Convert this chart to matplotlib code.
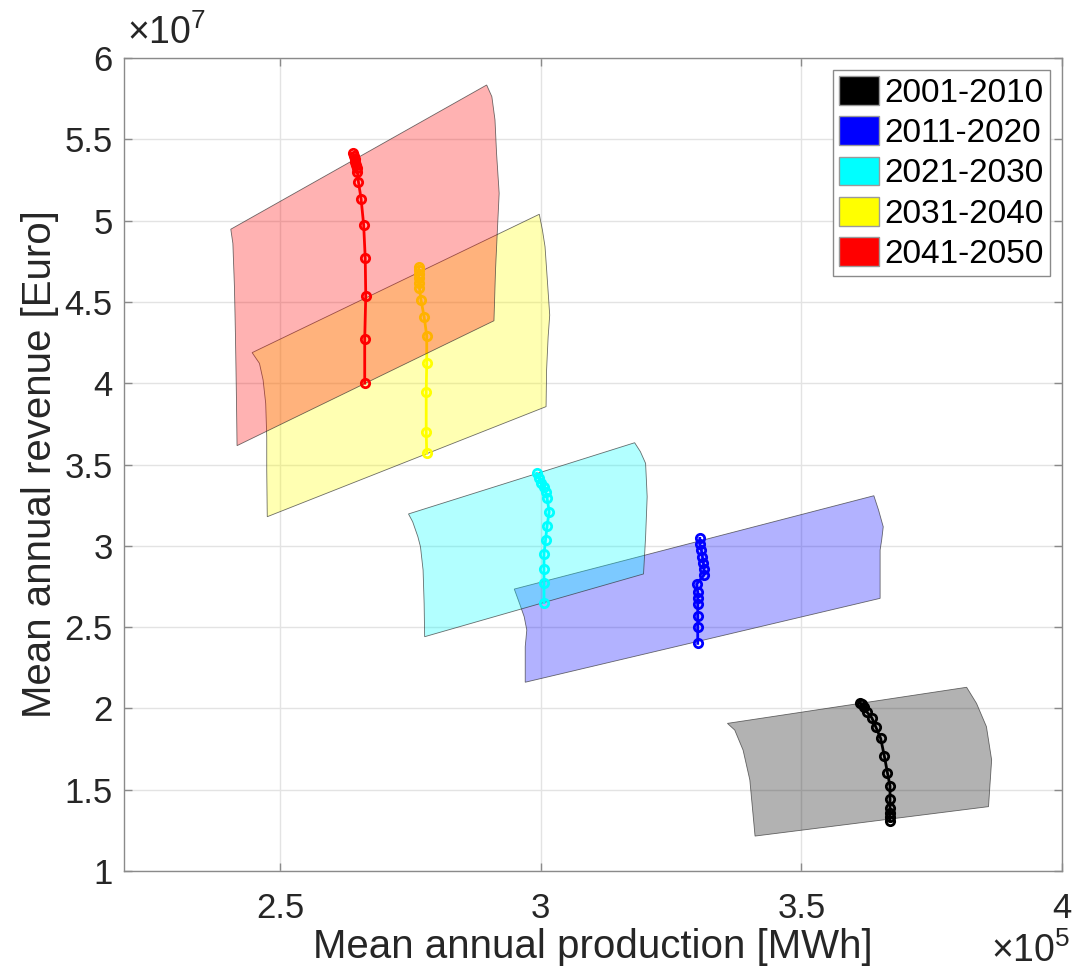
#! /usr/bin/env python3
# Production vs revenue envelopes per decade (MATLAB-style figure)
import matplotlib
matplotlib.use('Agg')
import matplotlib.pyplot as plt
from matplotlib.patches import Polygon, Patch
from matplotlib.ticker import FuncFormatter, MultipleLocator

plt.rcParams['font.family'] = ['Liberation Sans', 'DejaVu Sans']
plt.rcParams['mathtext.fontset'] = 'custom'
plt.rcParams['mathtext.rm'] = 'Liberation Sans'

# units: production in 1e5 MWh, revenue in 1e7 Euro
decades = ['2001-2010', '2011-2020', '2021-2030', '2031-2040', '2041-2050']
colors = ['black', 'blue', 'cyan', 'yellow', 'red']

# envelope outlines (top-left -> top-right -> right side -> bottom-left -> left side)
band_2001_x = [3.358, 3.817, 3.836, 3.855, 3.865, 3.859, 3.411, 3.401, 3.388, 3.372]
band_2001_y = [1.908, 2.130, 2.031, 1.888, 1.683, 1.396, 1.215, 1.560, 1.744, 1.867]
band_2011_x = [2.949, 3.639, 3.648, 3.657, 3.654, 3.651, 3.651, 2.970, 2.970, 2.973, 2.968, 2.959]
band_2011_y = [2.734, 3.308, 3.220, 3.117, 3.036, 2.974, 2.677, 2.161, 2.380, 2.482, 2.564, 2.646]
band_2021_x = [2.746, 3.180, 3.191, 3.201, 3.204, 3.201, 3.197, 2.777, 2.776, 2.774, 2.769, 2.764, 2.754]
band_2021_y = [3.196, 3.634, 3.579, 3.507, 3.302, 3.056, 2.827, 2.441, 2.646, 2.851, 2.994, 3.056, 3.148]
band_2031_x = [2.446, 2.997, 3.003, 3.008, 3.012, 3.017, 3.014, 3.011, 3.010,
               2.475, 2.474, 2.474, 2.472, 2.467, 2.460]
band_2031_y = [4.188, 5.039, 4.942, 4.840, 4.655, 4.419, 4.286, 4.081, 3.856,
               3.179, 3.466, 3.671, 3.876, 4.020, 4.122]
band_2041_x = [2.405, 2.896, 2.906, 2.912, 2.915, 2.920, 2.916, 2.913, 2.910,
               2.417, 2.416, 2.414, 2.412, 2.409]
band_2041_y = [4.947, 5.834, 5.762, 5.619, 5.414, 5.168, 4.901, 4.696, 4.384,
               3.616, 3.876, 4.286, 4.594, 4.860]

# mean trajectories
mean_2001_x = [3.612, 3.616, 3.620, 3.625, 3.635, 3.643, 3.652, 3.659, 3.665, 3.670,
               3.670, 3.670, 3.670, 3.670, 3.670]
mean_2001_y = [2.035, 2.027, 2.007, 1.980, 1.943, 1.884, 1.816, 1.709, 1.605, 1.523,
               1.441, 1.390, 1.359, 1.334, 1.310]
mean_2011_x = [3.305, 3.305, 3.308, 3.310, 3.312, 3.313, 3.313, 3.299, 3.301, 3.301,
               3.301, 3.301, 3.301, 3.301]
mean_2011_y = [3.046, 3.009, 2.974, 2.933, 2.892, 2.855, 2.820, 2.765, 2.714, 2.677,
               2.640, 2.568, 2.503, 2.400]
mean_2021_x = [2.992, 2.997, 3.001, 3.006, 3.009, 3.012, 3.016, 3.012, 3.009, 3.006,
               3.006, 3.006, 3.006]
mean_2021_y = [3.446, 3.415, 3.384, 3.364, 3.333, 3.292, 3.210, 3.124, 3.036, 2.948,
               2.856, 2.773, 2.650]
mean_2031_x = [2.766, 2.766, 2.766, 2.766, 2.766, 2.767, 2.770, 2.776, 2.781, 2.781,
               2.780, 2.780, 2.781]
mean_2031_y = [4.713, 4.696, 4.672, 4.645, 4.614, 4.584, 4.512, 4.409, 4.292, 4.122,
               3.944, 3.702, 3.569]
mean_2041_x = [2.640, 2.641, 2.643, 2.644, 2.645, 2.647, 2.648, 2.650, 2.655, 2.660,
               2.663, 2.664, 2.662, 2.662]
mean_2041_y = [5.414, 5.397, 5.381, 5.362, 5.342, 5.322, 5.301, 5.237, 5.135, 4.973,
               4.768, 4.538, 4.272, 4.000]

bands = [(band_2001_x, band_2001_y), (band_2011_x, band_2011_y), (band_2021_x, band_2021_y),
         (band_2031_x, band_2031_y), (band_2041_x, band_2041_y)]
means = [(mean_2001_x, mean_2001_y), (mean_2011_x, mean_2011_y), (mean_2021_x, mean_2021_y),
         (mean_2031_x, mean_2031_y), (mean_2041_x, mean_2041_y)]

fig = plt.figure(figsize=(10.75, 9.73), dpi=100)
ax = fig.add_axes([0.1153, 0.1048, 0.8726, 0.8356])

# each decade is drawn over the previous one (patch, then its line)
for i, ((bx, by), (mx, my), c) in enumerate(zip(bands, means, colors)):
    z = 2 + i
    poly = Polygon(list(zip(bx, by)), closed=True, facecolor=c, alpha=0.3,
                   edgecolor='none', zorder=z)
    ax.add_patch(poly)
    edge = Polygon(list(zip(bx, by)), closed=True, fill=False,
                   edgecolor='#303030', linewidth=0.6, alpha=0.7, zorder=z + 0.1)
    ax.add_patch(edge)
    ax.plot(mx, my, '-o', color=c, linewidth=2, markersize=6,
            markerfacecolor='none', markeredgewidth=2, zorder=z + 0.5)

ax.set_xlim(2.2, 4.0)
ax.set_ylim(1, 6)
ax.xaxis.set_major_locator(MultipleLocator(0.5))
ax.yaxis.set_major_locator(MultipleLocator(0.5))
fmt = FuncFormatter(lambda v, p: '%g' % v)
ax.xaxis.set_major_formatter(fmt)
ax.yaxis.set_major_formatter(fmt)

ax.grid(True, color='#e3e3e3', linewidth=1, zorder=0)
ax.set_axisbelow(True)
for s in ax.spines.values():
    s.set_color('#8a8a8a')
    s.set_linewidth(1)
    s.set_zorder(10)
ax.tick_params(direction='in', length=6, width=1, color='#8a8a8a',
               top=True, right=True, labelsize=25, labelcolor='#262626')
ax.tick_params(axis='y', pad=8)
ax.tick_params(axis='x', pad=15)

ax.set_xlabel('Mean annual production [MWh]', fontsize=29, color='#262626', labelpad=2)
ax.set_ylabel('Mean annual revenue [Euro]', fontsize=29, color='#262626', labelpad=4)

fig.text(127 / 1075, 1 - 52 / 973, r'×10$^{7}$', fontsize=27, color='#262626',
         ha='left', va='bottom')
fig.text(1070 / 1075, 1 - 970 / 973, r'×10$^{5}$', fontsize=27, color='#262626',
         ha='right', va='bottom')

handles = [Patch(facecolor=c, edgecolor='#9a9a9a', linewidth=1) for c in colors]
leg = ax.legend(handles, decades, loc='upper right', fontsize=24, fancybox=False,
                framealpha=1, edgecolor='#8a8a8a', handlelength=1.2, handleheight=0.95,
                handletextpad=0.15, labelspacing=0.22, borderpad=0.2, borderaxespad=0.35)
leg.get_frame().set_linewidth(1)
leg.set_zorder(20)
for t in leg.get_texts():
    t.set_color('black')

plt.savefig('out.png', dpi=100)
plt.close(fig)
